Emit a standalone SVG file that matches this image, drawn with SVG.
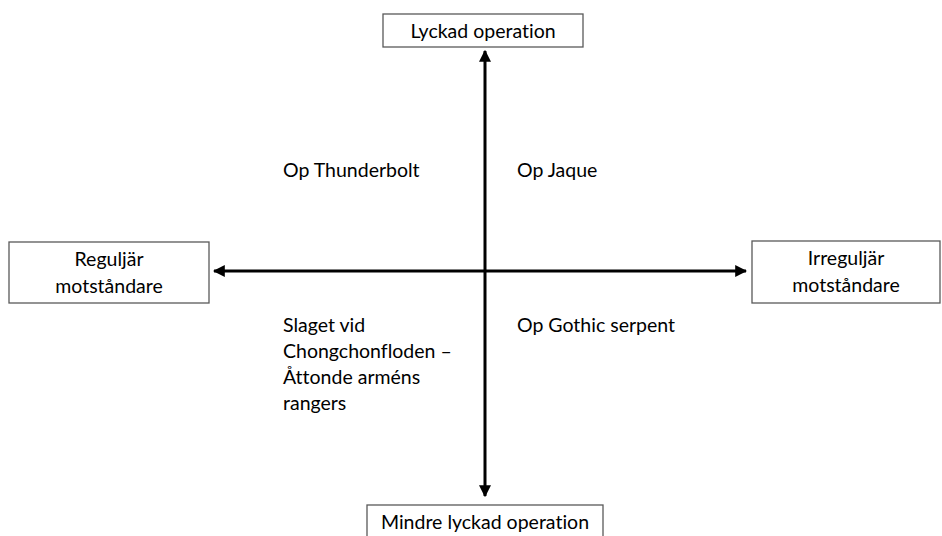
<svg xmlns="http://www.w3.org/2000/svg" width="942" height="536" viewBox="0 0 942 536">
<style>
.box{fill:#fff;stroke:#595959;stroke-width:1.3}
.t{font-family:Lato,"Open Sans","Liberation Sans",sans-serif;font-size:19.5px;fill:#000;font-variant-ligatures:none}
.ax{stroke:#000;stroke-width:3;fill:none}
</style>
<defs>
<marker id="ah" viewBox="0 0 10 10" refX="9" refY="5" markerWidth="4" markerHeight="4" orient="auto-start-reverse" markerUnits="strokeWidth">
<path d="M0,0 L10,5 L0,10 Z" fill="#000"/>
</marker>
</defs>
<rect width="942" height="536" fill="#fff"/>
<g id="connectors">
<line class="ax" x1="485" y1="51" x2="485" y2="496" marker-start="url(#ah)" marker-end="url(#ah)"/>
<line class="ax" x1="214" y1="271" x2="746" y2="271" marker-start="url(#ah)" marker-end="url(#ah)"/>
</g>
<g id="top">
<rect class="box" x="383" y="14" width="200" height="33"/>
<text class="t" x="483" y="38" text-anchor="middle">Lyckad operation</text>
</g>
<g id="bottom">
<rect class="box" x="367" y="505" width="236" height="40"/>
<text class="t" x="485" y="529" text-anchor="middle">Mindre lyckad operation</text>
</g>
<g id="left">
<rect class="box" x="9" y="242" width="200" height="61"/>
<text class="t" x="109" y="266" text-anchor="middle">Reguljär</text>
<text class="t" x="109" y="293" text-anchor="middle">motståndare</text>
</g>
<g id="right">
<rect class="box" x="752" y="241" width="188" height="62"/>
<text class="t" x="846" y="265" text-anchor="middle">Irreguljär</text>
<text class="t" x="846" y="292" text-anchor="middle">motståndare</text>
</g>
<g id="q1"><text class="t" x="283" y="177">Op Thunderbolt</text></g>
<g id="q2"><text class="t" x="517" y="177">Op Jaque</text></g>
<g id="q3"><text class="t" x="517" y="332">Op Gothic serpent</text></g>
<g id="q4">
<text class="t" x="283" y="332">Slaget vid</text>
<text class="t" x="283" y="358">Chongchonfloden –</text>
<text class="t" x="283" y="384">Åttonde arméns</text>
<text class="t" x="283" y="410">rangers</text>
</g>
</svg>
